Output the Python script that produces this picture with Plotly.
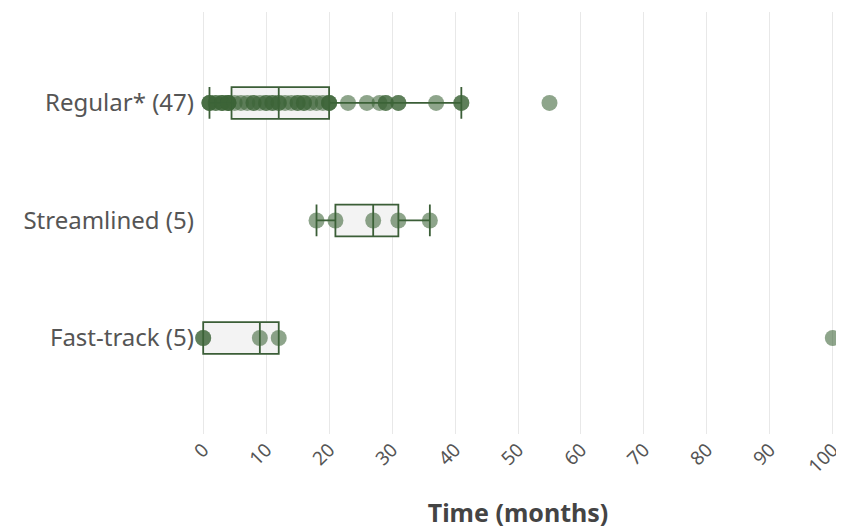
import plotly.graph_objects as go

categories = ["Fast-track (5)", "Streamlined (5)", "Regular* (47)"]

regular_months = [1, 1, 1, 2, 2, 3, 3, 3, 4, 4, 4, 4, 5, 6, 7, 8, 8, 9, 10, 10,
                  11, 11, 12, 12, 13, 14, 15, 15, 16, 16, 17, 18, 19, 20, 20, 20,
                  23, 26, 28, 29, 29, 31, 31, 37, 41, 41, 55]
streamlined_months = [18, 21, 27, 31, 36]
fasttrack_months = [0, 0, 9, 12, 100]

x_ticks = [0, 10, 20, 30, 40, 50, 60, 70, 80, 90, 100]

x_all = regular_months + streamlined_months + fasttrack_months
y_all = ([categories[2]] * len(regular_months)
         + [categories[1]] * len(streamlined_months)
         + [categories[0]] * len(fasttrack_months))

FONT = "'Noto Sans', 'Open Sans', sans-serif"

fig = go.Figure()
fig.add_trace(go.Box(
    x=x_all, y=y_all, orientation="h",
    boxpoints="all", jitter=0, pointpos=0,
    quartilemethod="inclusive",
    width=0.27, whiskerwidth=1,
    fillcolor="rgba(242,242,242,0.9)",
    line=dict(color="#3b5e37", width=1.8),
    marker=dict(color="rgba(60,100,55,0.58)", size=16, line=dict(width=0)),
    showlegend=False,
    hoverinfo="x",
))

# page body has an 8px default margin, so the figure is sized to fit the window
fig.update_layout(
    width=836, height=521,
    margin=dict(l=187, r=3, t=4, b=95),
    paper_bgcolor="white", plot_bgcolor="white",
    font=dict(family=FONT, color="#555555"),
    xaxis=dict(
        range=[-1.3, 101.3],
        tickvals=x_ticks,
        ticktext=[str(v) for v in x_ticks],
        tickangle=-45,
        tickfont=dict(size=19, color="#555555"),
        showgrid=True, gridcolor="#e8e8e8", gridwidth=1,
        zeroline=False, showline=False, ticks="",
        automargin=False,
        title=dict(text="<b>Time (months)</b>", font=dict(size=25, color="#444444"), standoff=40),
    ),
    yaxis=dict(
        type="category",
        categoryorder="array", categoryarray=categories,
        range=[-0.817, 2.774],
        tickfont=dict(size=24, color="#555555"),
        showgrid=False, zeroline=False, showline=False, ticks="",
        automargin=False,
    ),
)

fig.write_html("out.html")
